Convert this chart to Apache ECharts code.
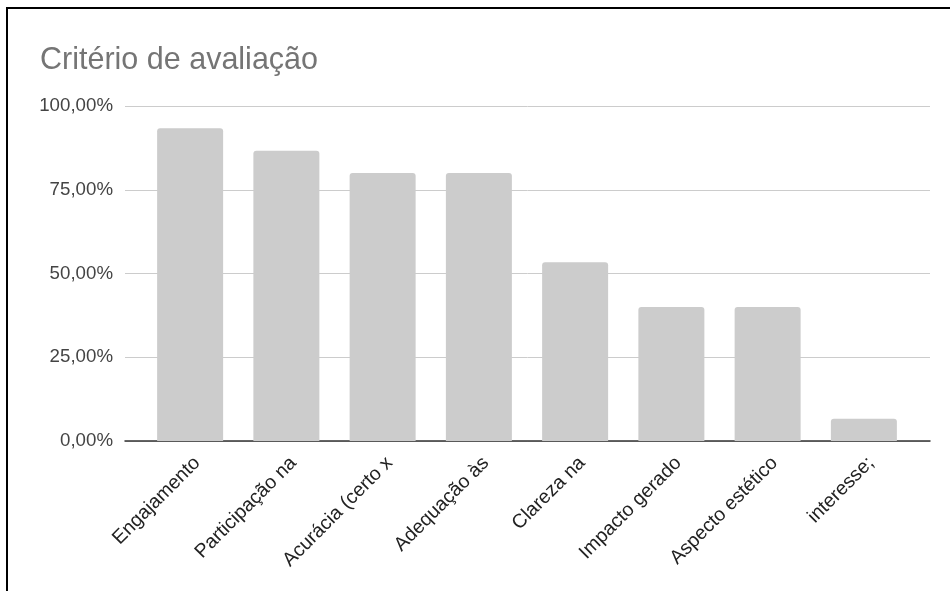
<!DOCTYPE html>
<html>
<head>
<meta charset="utf-8">
<title>Critério de avaliação</title>
<script src="https://cdn.jsdelivr.net/npm/echarts@6/dist/echarts.min.js"></script>
<style>
  html, body { margin: 0; padding: 0; background: #fff; }
  #chart { position: absolute; left: 0; top: 0; width: 950px; height: 591px; }
  #frame {
    position: absolute; left: 6px; top: 7px; width: 960px; height: 600px;
    border-left: 2px solid #000; border-top: 2px solid #000; pointer-events: none;
  }
</style>
</head>
<body>
<div id="chart"></div>
<div id="frame"></div>
<script>
// Criteria labels (as shown, truncated) and share of responses per criterion
const categories = [
  'Engajamento',
  'Participação na',
  'Acurácia (certo x',
  'Adequação às',
  'Clareza na',
  'Impacto gerado',
  'Aspecto estético',
  'interesse;'
];
const values = [0.9333, 0.8667, 0.80, 0.80, 0.5333, 0.40, 0.40, 0.0667];
const yTicks = [0, 0.25, 0.5, 0.75, 1];

const font = '"Liberation Sans", Arial, sans-serif';
const pct = v => (v * 100).toFixed(2).replace('.', ',') + '%';

const chart = echarts.init(document.getElementById('chart'), null, { renderer: 'canvas' });
chart.setOption({
  backgroundColor: '#ffffff',
  animation: false,
  title: {
    text: 'Critério de avaliação',
    left: 35,
    top: 40,
    textStyle: { fontFamily: font, fontSize: 30.5, fontWeight: 'normal', color: '#757575' }
  },
  grid: [
    // frame grid: value axis labels, gridlines and baseline
    { left: 125, right: 20, top: 106, bottom: 150 },
    // bar grid: category bands inset from the frame
    { left: 142, right: 38, top: 106, bottom: 150 }
  ],
  xAxis: [
    {
      type: 'category', gridIndex: 0, data: categories,
      axisLine: { show: true, lineStyle: { color: '#333333', width: 1.5 } },
      axisTick: { show: false }, axisLabel: { show: false }
    },
    {
      type: 'category', gridIndex: 1, data: categories,
      axisLine: { show: false }, axisTick: { show: false },
      axisLabel: {
        rotate: 45, margin: 12, interval: 0, verticalAlign: 'top',
        fontFamily: font, fontSize: 19.5, color: '#222222'
      }
    }
  ],
  yAxis: [
    {
      type: 'value', gridIndex: 0, min: yTicks[0], max: yTicks[yTicks.length - 1], interval: 0.25,
      axisLine: { show: false }, axisTick: { show: false },
      splitLine: { lineStyle: { color: '#cccccc', width: 1 } },
      axisLabel: { margin: 12, fontFamily: font, fontSize: 18.7, color: '#444444', formatter: pct }
    },
    {
      type: 'value', gridIndex: 1, min: 0, max: 1, interval: 0.25,
      show: false, splitLine: { show: false }
    }
  ],
  series: [
    {
      type: 'bar', xAxisIndex: 1, yAxisIndex: 1,
      data: values, barWidth: 66,
      itemStyle: { color: '#cccccc', borderRadius: [3, 3, 0, 0] },
      z: 3
    }
  ]
});
</script>
</body>
</html>
